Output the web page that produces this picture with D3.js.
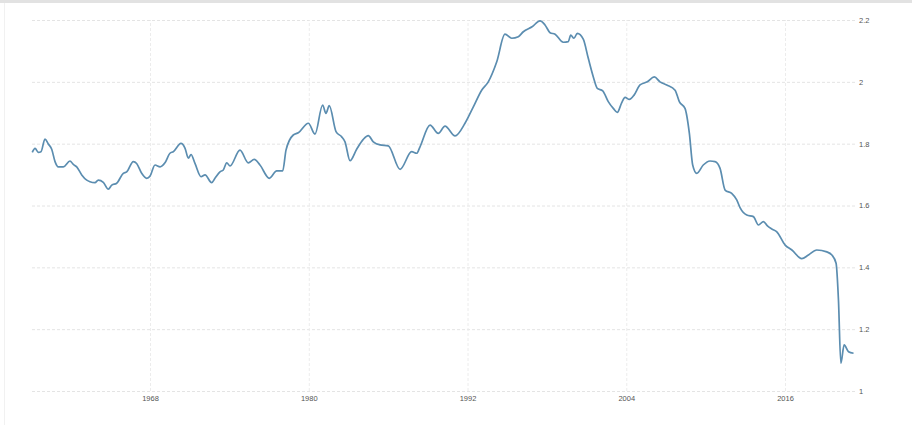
<html lang="en">
<head>
<meta charset="utf-8">
<title>Time series</title>
<script src="https://d3js.org/d3.v7.min.js"></script>
<style>
  body { margin: 0; background: #fff; }
  text { font-family: "Liberation Sans", Arial, sans-serif; font-size: 7.5px; fill: #555; }
</style>
</head>
<body>
<script>
// values (decimal year, value)
var years = [1959.10,1959.31,1959.56,1959.76,1960.06,1960.31,1960.57,1960.82,1961.07,1961.45,
  1961.95,1962.20,1962.46,1962.84,1963.22,1963.46,1963.84,1964.09,1964.47,1964.85,
  1965.11,1965.48,1965.98,1966.24,1966.74,1966.99,1967.37,1967.75,1968.00,1968.38,
  1968.76,1969.13,1969.51,1969.76,1970.34,1970.65,1970.90,1971.10,1971.40,1971.86,
  1972.16,1972.66,1972.91,1973.29,1973.54,1973.80,1974.05,1974.80,1975.43,1975.88,
  1976.31,1977.02,1977.58,1978.03,1978.28,1978.83,1979.21,1979.97,1980.47,1981.05,
  1981.30,1981.55,1982.06,1982.49,1982.74,1983.12,1983.62,1984.12,1984.50,1984.88,
  1985.39,1986.01,1986.90,1987.78,1988.16,1988.41,1989.17,1989.79,1990.30,1991.06,
  1991.81,1992.44,1993.07,1993.57,1994.21,1994.83,1995.34,1995.84,1996.22,1996.88,
  1997.48,1997.86,1998.24,1998.62,1999.24,1999.62,1999.80,2000.05,2000.30,2000.75,
  2001.13,2001.51,2001.81,2002.22,2002.64,2003.02,2003.32,2003.65,2003.91,2004.23,
  2004.59,2005.04,2005.59,2006.12,2006.55,2007.06,2007.69,2008.01,2008.44,2008.77,
  2009.02,2009.33,2009.82,2010.33,2010.71,2011.09,2011.47,2011.97,2012.35,2012.60,
  2013.11,2013.61,2013.99,2014.37,2014.65,2015.00,2015.38,2016.01,2016.52,2017.27,
  2017.77,2018.40,2019.16,2019.54,2019.86,2020.04,2020.22,2020.47,2020.80,2021.18];

var values = [1.772,1.785,1.772,1.774,1.815,1.799,1.782,1.742,1.725,1.725,
  1.744,1.733,1.725,1.699,1.682,1.677,1.674,1.682,1.675,1.653,
  1.666,1.672,1.704,1.709,1.742,1.736,1.704,1.688,1.695,1.731,
  1.725,1.738,1.769,1.774,1.801,1.785,1.753,1.765,1.736,1.693,
  1.699,1.674,1.688,1.709,1.715,1.738,1.728,1.779,1.738,1.749,
  1.731,1.688,1.712,1.712,1.779,1.828,1.835,1.866,1.831,1.925,
  1.898,1.923,1.839,1.822,1.806,1.745,1.782,1.814,1.826,1.806,
  1.796,1.793,1.717,1.774,1.769,1.790,1.860,1.833,1.857,1.825,
  1.866,1.919,1.973,2.000,2.065,2.154,2.141,2.146,2.162,2.178,
  2.197,2.184,2.159,2.154,2.128,2.130,2.151,2.141,2.157,2.138,
  2.076,2.016,1.979,1.971,1.936,1.914,1.901,1.932,1.950,1.943,
  1.957,1.990,2.000,2.016,2.000,1.990,1.973,1.936,1.914,1.833,
  1.731,1.704,1.731,1.744,1.742,1.720,1.650,1.639,1.618,1.593,
  1.569,1.564,1.537,1.548,1.535,1.524,1.515,1.472,1.456,1.428,
  1.440,1.456,1.450,1.440,1.413,1.294,1.090,1.149,1.127,1.122];

var xTicks = [1968, 1980, 1992, 2004, 2016];
var yTicks = [1, 1.2, 1.4, 1.6, 1.8, 2, 2.2];

var w = 912, h = 425;
var plotLeft = 32, plotRight = 855, plotTop = 20, plotBottom = 391;

var svg = d3.select("body").append("svg")
  .attr("width", w)
  .attr("height", h);

// frame edge at the top and left
svg.append("rect").attr("x", 0).attr("y", 0).attr("width", w).attr("height", 3).attr("fill", "#e2e2e2");
svg.append("rect").attr("x", 4).attr("y", 3).attr("width", 1).attr("height", h - 3).attr("fill", "#f1f1f1");

var xScale = d3.scaleLinear()
  .domain([1959.08, 2021.29])
  .range([plotLeft, plotRight]);

var yScale = d3.scaleLinear()
  .domain([1, 2.2])
  .range([plotBottom, plotTop]);

// horizontal grid + right labels
svg.append("g")
  .attr("transform", "translate(" + plotRight + ",0)")
  .call(d3.axisRight(yScale).tickValues(yTicks).tickSize(-(plotRight - plotLeft)).tickPadding(4).tickFormat(d3.format("")))
  .call(function(g) {
    g.select(".domain").remove();
    g.selectAll("line").attr("stroke", "#e4e4e4").attr("stroke-dasharray", "3,2");
    g.selectAll("text").attr("fill", "#555").style("font-size", "7.5px").attr("font-family", null);
  });

// vertical grid + bottom labels
svg.append("g")
  .attr("transform", "translate(0," + plotBottom + ")")
  .call(d3.axisBottom(xScale).tickValues(xTicks).tickSize(-(plotBottom - plotTop)).tickPadding(5).tickFormat(d3.format("d")))
  .call(function(g) {
    g.select(".domain").remove();
    g.selectAll("line").attr("stroke", "#ececec").attr("stroke-dasharray", "3,2");
    g.selectAll("text").attr("fill", "#555").style("font-size", "7.5px").attr("font-family", null);
  });

var data = years.map(function(y, i) { return [y, values[i]]; });

var line = d3.line()
  .x(function(d) { return xScale(d[0]); })
  .y(function(d) { return yScale(d[1]); })
  .curve(d3.curveMonotoneX);

svg.append("path")
  .datum(data)
  .attr("d", line)
  .attr("fill", "none")
  .attr("stroke", "#5b8db0")
  .attr("stroke-width", 1.7);
</script>
</body>
</html>
